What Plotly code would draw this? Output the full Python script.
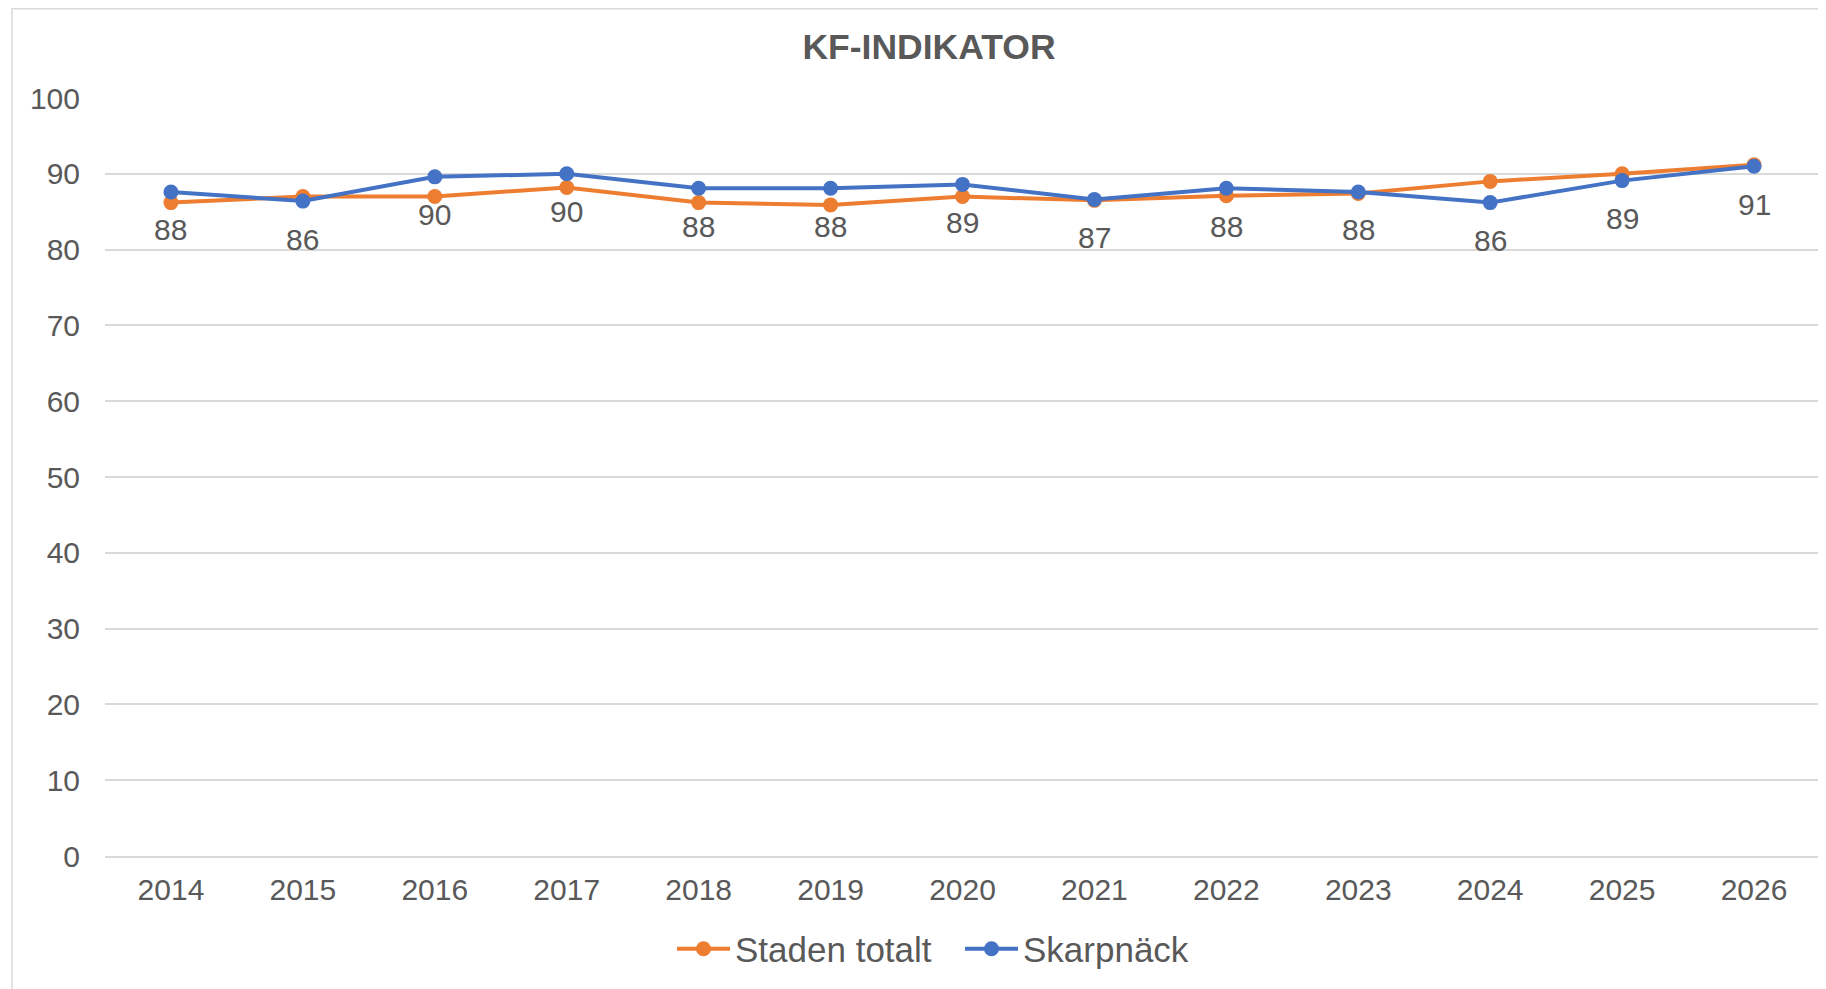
import plotly.graph_objects as go

years = ["2014", "2015", "2016", "2017", "2018", "2019", "2020",
         "2021", "2022", "2023", "2024", "2025", "2026"]
staden_totalt = [86.2, 87.0, 87.0, 88.2, 86.2, 85.9, 87.0,
                 86.5, 87.1, 87.4, 89.0, 90.0, 91.2]
skarpnack = [87.6, 86.4, 89.6, 90.0, 88.1, 88.1, 88.6,
             86.6, 88.1, 87.6, 86.2, 89.1, 91.0]
skarpnack_labels = ["88", "86", "90", "90", "88", "88", "89",
                    "87", "88", "88", "86", "89", "91"]
y_ticks = [0, 10, 20, 30, 40, 50, 60, 70, 80, 90, 100]

W, H = 1826, 989
OFF = 8  # page body margin
L, R, T, B = 105 - OFF, 6 + OFF, 98 - OFF, 133 + OFF
TXT = "#595959"
GRID = "#D9D9D9"
FONT = "Liberation Sans, Arial, sans-serif"

fig = go.Figure()
fig.add_trace(go.Scatter(
    x=years, y=staden_totalt, name="Staden totalt", mode="lines+markers",
    line=dict(color="#ED7D31", width=4),
    marker=dict(color="#ED7D31", size=15),
))
fig.add_trace(go.Scatter(
    x=years, y=skarpnack, name="Skarpnäck", mode="lines+markers",
    line=dict(color="#4472C4", width=4),
    marker=dict(color="#4472C4", size=15),
))

for i, (yv, lab) in enumerate(zip(skarpnack, skarpnack_labels)):
    fig.add_annotation(x=i, y=yv, xref="x", yref="y", text=lab,
                       showarrow=False, yshift=-38,
                       font=dict(size=30, color=TXT, family=FONT))

pw = W - L - R
ph = H - T - B
def px_x(p):
    return (p - OFF - L) / pw
def px_y(p):
    return (H - B - (p - OFF)) / ph

fig.add_shape(type="rect", xref="paper", yref="paper",
              x0=px_x(12), x1=px_x(1830), y0=px_y(1010), y1=px_y(8.8),
              line=dict(color=GRID, width=1.5), fillcolor="rgba(0,0,0,0)",
              layer="below")

fig.update_layout(
    width=W, height=H,
    margin=dict(l=L, r=R, t=T, b=B, autoexpand=False),
    paper_bgcolor="white", plot_bgcolor="white",
    font=dict(family=FONT, color=TXT, size=30),
    title=dict(text="<b>KF-INDIKATOR</b>", x=(929 - OFF) / W, xref="container",
               xanchor="center", y=1 - (46.6 - OFF) / H, yref="container",
               yanchor="middle", font=dict(size=35.5, color=TXT, family=FONT)),
    showlegend=True,
    legend=dict(orientation="h", xanchor="left", x=px_x(672),
                yanchor="middle", yref="container", y=1 - (949 - OFF) / H,
                font=dict(size=35, color=TXT, family=FONT),
                bgcolor="rgba(0,0,0,0)", itemwidth=53,
                entrywidth=220, entrywidthmode="pixels"),
    xaxis=dict(type="category", range=[-0.5, 12.5], showgrid=False,
               showline=True, linecolor=GRID, linewidth=1.5,
               ticks="", ticklabelstandoff=6, zeroline=False,
               tickfont=dict(size=30, color=TXT)),
    yaxis=dict(range=[0, 100], tickvals=y_ticks, showgrid=True,
               gridcolor=GRID, gridwidth=1.5, zeroline=False,
               showline=False, ticks="", ticklabelstandoff=24,
               tickfont=dict(size=30, color=TXT)),
)

fig.write_html("out.html")
